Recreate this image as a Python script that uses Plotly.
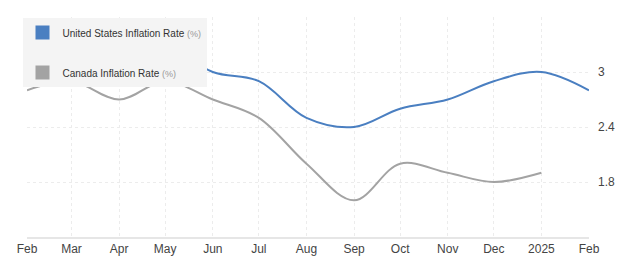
import plotly.graph_objects as go

months = ["2024-02-01", "2024-03-01", "2024-04-01", "2024-05-01", "2024-06-01", "2024-07-01",
          "2024-08-01", "2024-09-01", "2024-10-01", "2024-11-01", "2024-12-01", "2025-01-01",
          "2025-02-01"]
tick_labels = ["Feb", "Mar", "Apr", "May", "Jun", "Jul", "Aug", "Sep", "Oct", "Nov", "Dec", "2025", "Feb"]

us_dates = months
us_values = [3.2, 3.5, 3.4, 3.3, 3.0, 2.9, 2.5, 2.4, 2.6, 2.7, 2.9, 3.0, 2.8]

ca_dates = months[:12]
ca_values = [2.8, 2.9, 2.7, 2.9, 2.7, 2.5, 2.0, 1.6, 2.0, 1.9, 1.8, 1.9]

y_ticks = [1.2, 1.8, 2.4, 3.0, 3.6]
y_tick_labels = ["", "1.8", "2.4", "3", ""]

BLUE = "#4a7fc1"
GRAY = "#a3a3a3"

fig = go.Figure()
fig.add_trace(go.Scatter(x=ca_dates, y=ca_values, mode="lines", line=dict(color=GRAY, width=2, shape="spline", smoothing=1),
                         showlegend=False, name="Canada Inflation Rate"))
fig.add_trace(go.Scatter(x=us_dates, y=us_values, mode="lines", line=dict(color=BLUE, width=2, shape="spline", smoothing=1),
                         showlegend=False, name="United States Inflation Rate"))

# legend entries (square swatches)
fig.add_trace(go.Scatter(x=[None], y=[None], mode="markers", legendgroup="us",
                         marker=dict(symbol="square", size=14, color=BLUE),
                         name="United States Inflation Rate <span style='color:#999999;font-size:9px'>(%)</span>"))
fig.add_trace(go.Scatter(x=[None], y=[None], mode="markers", legendgroup="ca",
                         marker=dict(symbol="square", size=14, color=GRAY),
                         name="Canada Inflation Rate <span style='color:#999999;font-size:9px'>(%)</span>"))

fig.update_layout(
    width=627, height=268,
    margin=dict(l=27, r=29, t=17, b=31),
    paper_bgcolor="white", plot_bgcolor="white",
    font=dict(family="Liberation Sans, Arial, sans-serif", size=12, color="#444444"),
    legend=dict(x=-0.008, y=0.995, xanchor="left", yanchor="top", bgcolor="#f4f4f4", borderwidth=0,
                font=dict(size=10, color="#333333"), tracegroupgap=21, traceorder="grouped",
                itemsizing="trace"),
    xaxis=dict(
        type="date", range=["2024-02-01", "2025-02-01"],
        tickmode="array", tickvals=months, ticktext=tick_labels,
        showgrid=True, gridcolor="#ececec", griddash="dot", gridwidth=1,
        showline=True, linecolor="#e6e6e6", linewidth=2,
        ticks="", tickfont=dict(size=12, color="#444444"), zeroline=False,
    ),
    yaxis=dict(
        side="right", range=[1.2, 3.6],
        tickmode="array", tickvals=y_ticks, ticktext=y_tick_labels,
        showgrid=True, gridcolor="#ececec", griddash="dot", gridwidth=1,
        showline=False, zeroline=False, ticks="", ticklabelstandoff=8,
        tickfont=dict(size=12, color="#444444"),
    ),
    hovermode=False,
)

fig.write_html("out.html")
